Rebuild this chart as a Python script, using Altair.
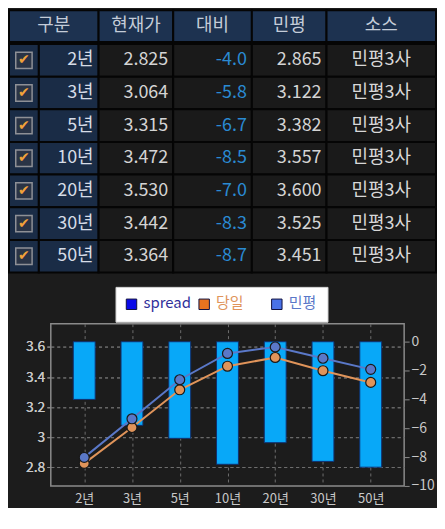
import altair as alt
import pandas as pd

# ---------------- data ----------------
tenors = ["2년", "3년", "5년", "10년", "20년", "30년", "50년"]
current = [2.825, 3.064, 3.315, 3.472, 3.530, 3.442, 3.364]
spread = [-4.0, -5.8, -6.7, -8.5, -7.0, -8.3, -8.7]
minpyeong = [2.865, 3.122, 3.382, 3.557, 3.600, 3.525, 3.451]
source = ["민평3사"] * 7
headers = ["구분", "현재가", "대비", "민평", "소스"]
legend_items = ["spread", "당일", "민평"]
left_ticks = [2.8, 3.0, 3.2, 3.4, 3.6]
right_ticks = [-10, -8, -6, -4, -2, 0]

# ---------------- style ----------------
FONT = "Noto Sans CJK KR"
BG = "#1c1c1c"
HDR = "#1d3250"
NAVY = "#1a2c46"
CELL = "#1a1a1a"
BORDER = "#050505"
ROW_H = 32.8
BODY_H = ROW_H * 7

df = pd.DataFrame({
    "tenor": tenors,
    "cur": [f"{v:.3f}" for v in current],
    "spread": spread,
    "spread_s": [f"{v:.1f}" for v in spread],
    "mp": [f"{v:.3f}" for v in minpyeong],
    "src": source,
    "chk": ["✔"] * 7,
})

y_rows = alt.Y("tenor:N", sort=tenors, axis=None)


def spacer(w):
    # invisible, tiny mark: only reserves horizontal room in the layout
    return alt.Chart(pd.DataFrame({"s": [0]})).mark_point(
        opacity=0, size=1, strokeWidth=0).encode(
        x=alt.XDatum(0, scale=alt.Scale(domain=[0, 1]), axis=None),
        y=alt.YDatum(0, scale=alt.Scale(domain=[0, 1]), axis=None),
    ).properties(width=w, height=1)


def header_cell(label, w):
    d = pd.DataFrame({"h": [label]})
    base = alt.Chart(d).properties(width=w, height=32)
    rect = base.mark_rect(fill=HDR, stroke=BORDER, strokeWidth=2).encode(
        y=alt.Y("h:N", axis=None))
    txt = base.mark_text(font=FONT, fontSize=18, color="#c4ccd8").encode(
        y=alt.Y("h:N", axis=None),
        x=alt.XDatum(0.5, scale=alt.Scale(domain=[0, 1]), axis=None),
        text="h:N")
    return rect + txt


def body_col(field, w, fill, color, align="right"):
    base = alt.Chart(df).properties(width=w, height=BODY_H)
    rect = base.mark_rect(fill=fill, stroke=BORDER, strokeWidth=2).encode(y=y_rows)
    if align == "right":
        xpos = alt.XDatum(1, scale=alt.Scale(domain=[0, 1]), axis=None)
        txt = base.mark_text(font=FONT, fontSize=18, color=color, align="right", dx=-5)
    else:
        xpos = alt.XDatum(0.5, scale=alt.Scale(domain=[0, 1]), axis=None)
        txt = base.mark_text(font=FONT, fontSize=18, color=color, align="center")
    txt = txt.encode(y=y_rows, x=xpos, text=f"{field}:N")
    return rect + txt


# checkbox column
chk_base = alt.Chart(df).properties(width=30, height=BODY_H)
chk_rect = chk_base.mark_rect(fill=NAVY, stroke=BORDER, strokeWidth=2).encode(y=y_rows)
chk_box = chk_base.mark_square(size=270, fill="#2a3446", stroke="#8e9096", strokeWidth=1.5, opacity=1).encode(
    y=y_rows, x=alt.XDatum(0.5, scale=alt.Scale(domain=[0, 1]), axis=None))
chk_mark = chk_base.mark_text(font="DejaVu Sans", fontSize=14, color="#f2a23a", fontWeight="bold").encode(
    y=y_rows, x=alt.XDatum(0.5, scale=alt.Scale(domain=[0, 1]), axis=None), text="chk:N")
chk_col = chk_rect + chk_box + chk_mark

header_row = alt.hconcat(
    *[header_cell(h, w) for h, w in zip(headers, [90, 75, 79, 75, 110])],
    spacing=0, bounds="flush")
body_row = alt.hconcat(
    chk_col,
    body_col("tenor", 60, NAVY, "#d6dce6"),
    body_col("cur", 75, CELL, "#d4d4d4"),
    body_col("spread_s", 79, CELL, "#2a8ad2"),
    body_col("mp", 75, CELL, "#d4d4d4"),
    body_col("src", 110, CELL, "#d8d8d8", align="center"),
    spacing=0, bounds="flush")
table = alt.vconcat(header_row, body_row, spacing=0)

# ---------------- legend ----------------
leg_df = pd.DataFrame({"item": legend_items})
leg_x = alt.X("item:N", sort=legend_items,
              scale=alt.Scale(type="point", padding=0.459, align=0.24), axis=None)
leg_color = alt.Color("item:N", scale=alt.Scale(domain=legend_items,
                                                range=["#0a0ae8", "#e8731f", "#4a72e8"]), legend=None)
leg_text_color = alt.Color("item:N", scale=alt.Scale(domain=legend_items,
                                                     range=["#30309a", "#e0945a", "#5a78c8"]), legend=None)
leg_base = alt.Chart(leg_df).properties(
    width=213, height=35,
    view=alt.ViewBackground(fill="white", stroke="#d0d0d0", strokeWidth=1))
leg_sq = leg_base.mark_square(size=110, stroke="#101040", strokeWidth=1, opacity=1).encode(
    x=leg_x, fill=leg_color, shape=alt.Shape("item:N", scale=alt.Scale(
        domain=legend_items, range=["square", "circle", "circle"]), legend=None))
leg_txt = leg_base.mark_text(font=FONT, fontSize=15, align="left", dx=12, dy=-1).encode(
    x=leg_x, text="item:N", color=leg_text_color)
legend = alt.layer(leg_sq, leg_txt)

# ---------------- plot ----------------
long = pd.DataFrame({
    "tenor": tenors * 2,
    "val": current + minpyeong,
    "series": ["당일"] * 7 + ["민평"] * 7,
})

x_enc = alt.X("tenor:N", sort=tenors, scale=alt.Scale(type="point", padding=0.7),
              axis=alt.Axis(title=None, labelAngle=0, grid=True, gridDash=[3, 3],
                            gridColor="#6e6e6e", domain=False, ticks=False,
                            labelFont=FONT, labelFontSize=13, labelColor="#c8c8c8",
                            labelPadding=7))

bars = alt.Chart(df).mark_bar(size=22, color="#08a8f8", stroke="#103070", strokeWidth=1).encode(
    x=x_enc,
    y=alt.Y("spread:Q", scale=alt.Scale(domain=[-10, 1.25], nice=False),
            axis=alt.Axis(orient="right", title=None, values=right_ticks, format="d",
                          grid=False, domain=False, tickColor="#8a8a8a", tickSize=5,
                          labelFont=FONT, labelFontSize=14, labelColor="#c8c8c8",
                          labelPadding=2)),
    y2=alt.Y2Datum(0),
)

line_color = alt.Color("series:N", scale=alt.Scale(domain=["당일", "민평"],
                                                    range=["#e8731f", "#4a6ee6"]), legend=None)
y_left = alt.Y("val:Q", scale=alt.Scale(domain=[2.675, 3.755], nice=False, zero=False),
               axis=alt.Axis(orient="left", title=None, values=left_ticks, format="~g",
                             grid=True, gridDash=[3, 3], gridColor="#6e6e6e", domain=False,
                             tickColor="#8a8a8a", tickSize=4, labelFont=FONT, labelFontSize=14,
                             labelColor="#c8c8c8", labelPadding=2, minExtent=40, maxExtent=40))
lines = alt.Chart(long).mark_line(strokeWidth=2).encode(
    x=x_enc, y=y_left, color=line_color, detail="series:N")
pts = alt.Chart(long).mark_circle(size=100, stroke="#1a1a1a", strokeWidth=1.2, opacity=1).encode(
    x=x_enc, y=y_left, color=line_color)

plot = alt.layer(bars, lines, pts).resolve_scale(y="independent").properties(
    width=355, height=163,
    view=alt.ViewBackground(stroke="#8a8a8a", strokeWidth=1.5))

legend_row = alt.hconcat(spacer(106), legend, spacing=0)
plot_row = alt.hconcat(spacer(1), plot, spacing=0)
lower = alt.vconcat(legend_row, plot_row, spacing=0)

chart = alt.vconcat(table, lower, spacing=12).configure(
    background=BG, padding=0
).configure_view(strokeWidth=0)

chart.save("out.html", embed_options={"renderer": "svg", "actions": False})
